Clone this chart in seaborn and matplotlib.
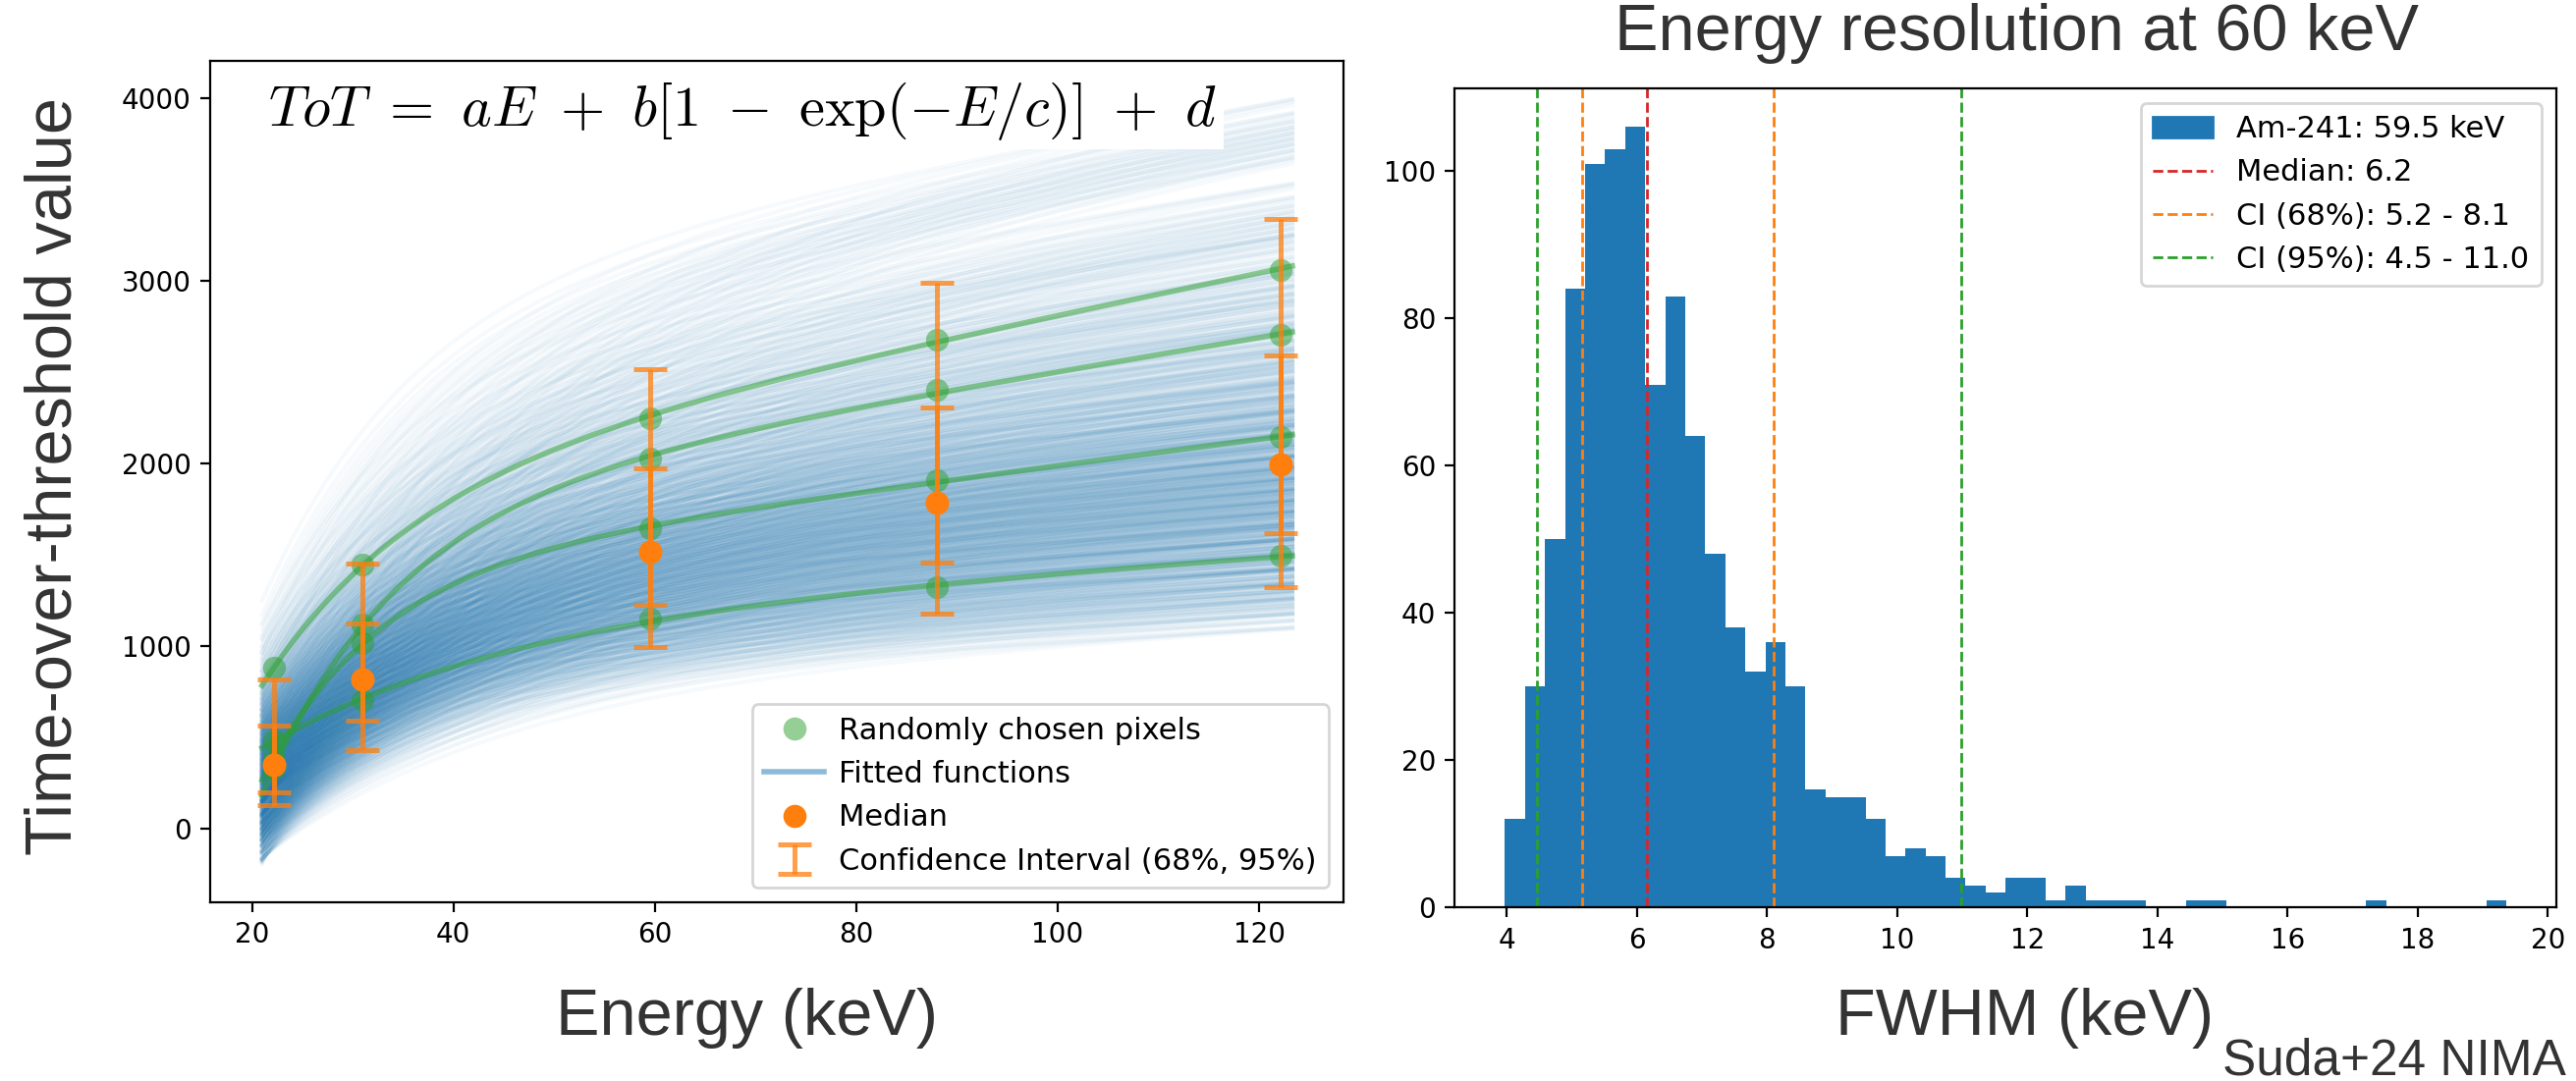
import numpy as np
import pandas as pd
import matplotlib
matplotlib.use("Agg")
import matplotlib.pyplot as plt
from matplotlib.lines import Line2D
from matplotlib.patches import Patch
import seaborn as sns

# ---------------- ToT calibration data ----------------
energies = [22.2, 31.0, 59.5, 88.0, 122.1]          # keV
tot_median = [352, 816, 1515, 1784, 1997]
ci68_low = [199, 595, 1226, 1457, 1619]
ci68_high = [564, 1125, 1972, 2307, 2590]
ci95_low = [133, 430, 998, 1177, 1322]
ci95_high = [816, 1452, 2513, 2989, 3339]

# four randomly chosen pixels
pixel_1 = [882, 1448, 2248, 2679, 3060]
pixel_2 = [330, 1120, 2027, 2401, 2701]
pixel_3 = [390, 1017, 1647, 1910, 2143]
pixel_4 = [487, 703, 1149, 1322, 1493]

# spread of the per-pixel calibration curves around the median response
ens_gain = [0.62, 0.66, 0.70, 0.74, 0.78, 0.81, 0.84, 0.87, 0.90, 0.93, 0.96, 0.99,
            1.02, 1.05, 1.09, 1.13, 1.17, 1.22, 1.28, 1.35, 1.43, 1.53, 1.67, 1.90]
ens_offset = [-140, -100, -65, -35, -5, 25, 60, 105, 180]
ens_decay_scale = [0.80, 0.90, 1.00, 1.12, 1.25]

energy_span = (21.0, 123.3)

# ---------------- FWHM histogram at 59.5 keV ----------------
fwhm_range = (3.974, 19.36)
fwhm_counts = [12, 30, 50, 84, 101, 103, 106, 71, 83, 64,
               48, 38, 32, 36, 30, 16, 15, 15, 12, 7,
               8, 7, 4, 3, 2, 4, 4, 1, 3, 1,
               1, 1, 0, 0, 1, 1, 0, 0, 0, 0,
               0, 0, 0, 1, 0, 0, 0, 0, 0, 1]
fwhm_median = 6.16
fwhm_ci68 = (5.16, 8.10)
fwhm_ci95 = (4.47, 10.99)


def tot_model(E, a, b, c, d):
    return a * E + b * (1.0 - np.exp(-E / c)) + d


def fit_tot(E, y):
    """Least squares fit of the ToT model: linear in a, b, d; scan over c."""
    E = np.asarray(E, float)
    y = np.asarray(y, float)
    best = None
    for c in np.linspace(4.0, 80.0, 761):
        A = np.column_stack([E, 1.0 - np.exp(-E / c), np.ones_like(E)])
        coef, *_ = np.linalg.lstsq(A, y, rcond=None)
        res = np.sum((A @ coef - y) ** 2)
        if best is None or res < best[0]:
            best = (res, coef[0], coef[1], c, coef[2])
    return best[1:]


plt.rcParams["mathtext.fontset"] = "cm"
label_font = dict(family=["Liberation Sans", "DejaVu Sans"], color="#333333")

fig = plt.figure(figsize=(2623 / 200, 1101 / 200), dpi=200)
ax = fig.add_axes([0.0817, 0.1653, 0.44, 0.7786])
ax2 = fig.add_axes([0.5648, 0.1605, 0.4276, 0.7582])

E = np.linspace(*energy_span, 200)

# fitted functions of all pixels
a0, b0, c0, d0 = fit_tot(energies, tot_median)
curves = []
for g in ens_gain:
    for h in ens_offset:
        for s in ens_decay_scale:
            curves.append(g * tot_model(E, a0, b0, c0 * s, d0) + h)
curves = np.array(curves)
ax.plot(E, curves.T, color="#1f77b4", alpha=0.035, lw=1.5, zorder=1)

# randomly chosen pixels with their own fits
for pix in (pixel_1, pixel_2, pixel_3, pixel_4):
    p = fit_tot(energies, pix)
    sns.lineplot(x=E, y=tot_model(E, *p), color="#2ca02c", alpha=0.5, lw=2,
                 ax=ax, zorder=2)
    sns.scatterplot(x=energies, y=pix, color="#2ca02c", alpha=0.5, s=70,
                    linewidth=0, ax=ax, zorder=3)

med = np.array(tot_median, float)
eb95 = ax.errorbar(energies, med,
                   yerr=[med - np.array(ci95_low), np.array(ci95_high) - med],
                   fmt="none", ecolor="#ff7f0e", alpha=0.75, elinewidth=1.8,
                   capsize=6, capthick=1.8, zorder=4)
ax.errorbar(energies, med,
            yerr=[med - np.array(ci68_low), np.array(ci68_high) - med],
            fmt="none", ecolor="#ff7f0e", alpha=0.75, elinewidth=1.8,
            capsize=6, capthick=1.8, zorder=4)
sns.scatterplot(x=energies, y=tot_median, color="#ff7f0e", s=75, linewidth=0,
                ax=ax, zorder=5)

ax.text(0.051, 0.978,
        r"$ToT\ =\ aE\ +\ b[1\ -\ \exp(-E/c)]\ +\ d$",
        transform=ax.transAxes, fontsize=21, ha="left", va="top", zorder=6,
        bbox=dict(boxstyle="square,pad=0.12", fc="white", ec="none"))

handles = [
    Line2D([], [], marker="o", ls="none", color="#2ca02c", alpha=0.5, ms=8.5,
           markeredgewidth=0),
    Line2D([], [], color="#1f77b4", alpha=0.5, lw=2),
    Line2D([], [], marker="o", ls="none", color="#ff7f0e", ms=8.5,
           markeredgewidth=0),
    eb95,
]
labels = ["Randomly chosen pixels", "Fitted functions", "Median",
          "Confidence Interval (68%, 95%)"]
ax.legend(handles, labels, loc="lower right", fontsize=11, handletextpad=0.5)
ax.set_xlabel("")
ax.set_ylabel("")

# ---------------- right: FWHM distribution ----------------
n_bins = len(fwhm_counts)
width = (fwhm_range[1] - fwhm_range[0]) / n_bins
hist_df = pd.DataFrame({
    "fwhm": fwhm_range[0] + width * (np.arange(n_bins) + 0.5),
    "count": fwhm_counts,
})
sns.histplot(data=hist_df, x="fwhm", weights="count", bins=n_bins,
             binrange=fwhm_range, color="#1f77b4", alpha=1.0,
             edgecolor="none", linewidth=0, ax=ax2)
ax2.axvline(fwhm_median, color="#d62728", ls="--", lw=1)
for v in fwhm_ci68:
    ax2.axvline(v, color="#ff7f0e", ls="--", lw=1)
for v in fwhm_ci95:
    ax2.axvline(v, color="#2ca02c", ls="--", lw=1)
ax2.set_xlabel("")
ax2.set_ylabel("")
ax2.set_xticks(np.arange(4, 21, 2))
h2 = [Patch(color="#1f77b4"),
      Line2D([], [], color="#d62728", ls="--", lw=1),
      Line2D([], [], color="#ff7f0e", ls="--", lw=1),
      Line2D([], [], color="#2ca02c", ls="--", lw=1)]
l2 = ["Am-241: 59.5 keV",
      f"Median: {fwhm_median:.1f}",
      f"CI (68%): {fwhm_ci68[0]:.1f} - {fwhm_ci68[1]:.1f}",
      f"CI (95%): {fwhm_ci95[0]:.1f} - {fwhm_ci95[1]:.1f}"]
ax2.legend(h2, l2, loc="upper right", fontsize=11)

# ---------------- labels ----------------
fig.text(0.021, 0.5595, "Time-over-threshold value", rotation=90,
         ha="center", va="center", fontsize=24, **label_font)
fig.text(0.290, 0.058, "Energy (keV)", ha="center", va="center",
         fontsize=24, **label_font)
fig.text(0.7858, 0.058, "FWHM (keV)", ha="center", va="center",
         fontsize=24, **label_font)
fig.text(0.783, 0.969, "Energy resolution at 60 keV", ha="center",
         va="center", fontsize=24, **label_font)
fig.text(0.9962, 0.0055, "Suda+24 NIMA", ha="right", va="baseline",
         fontsize=18.5, **label_font)

fig.savefig("out.png", dpi=200)
